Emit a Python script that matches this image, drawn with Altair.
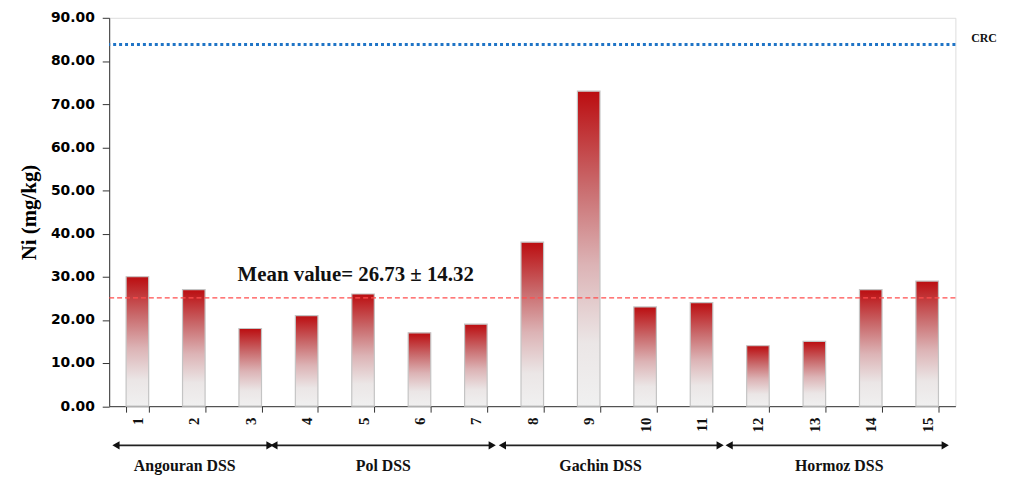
import altair as alt
import pandas as pd

# ---- data ----
samples = [str(i) for i in range(1, 16)]
ni_values = [30, 27, 18, 21, 26, 17, 19, 38, 73, 23, 24, 14, 15, 27, 29]

mean_line = 25.1
crc_value = 83.8
mean_label = "Mean value= 26.73 \u00b1 14.32"

group_names = ["Angouran  DSS", "Pol DSS", "Gachin DSS", "Hormoz  DSS"]
group_start = [0.12, 2.92, 6.97, 10.99]
group_end = [2.85, 6.79, 10.83, 14.82]
group_center = [1.34, 4.86, 8.71, 12.94]

bars_df = pd.DataFrame({"sample": samples, "ni": ni_values})
groups_df = pd.DataFrame({"name": group_names, "start": group_start,
                          "end": group_end, "center": group_center})

SERIF = "Liberation Serif"
W, H = 853, 391.5

yscale = alt.Scale(domain=[0, 90], nice=False)

gradient = alt.Gradient(
    gradient="linear",
    stops=[
        alt.GradientStop(color="#bb0d10", offset=0),
        alt.GradientStop(color="#c96a6c", offset=0.3),
        alt.GradientStop(color="#dcb3b5", offset=0.55),
        alt.GradientStop(color="#ebe6e6", offset=0.8),
        alt.GradientStop(color="#f0f0f0", offset=1),
    ],
    x1=0, x2=0, y1=0, y2=1,
)

bars = alt.Chart(bars_df).mark_bar(
    color=gradient, stroke="#c4c4c4", strokeWidth=1.2
).encode(
    x=alt.X("sample:N", sort=samples,
            scale=alt.Scale(paddingInner=0.6, paddingOuter=0.3),
            axis=alt.Axis(title=None, labelAngle=270, labelFont=SERIF,
                          labelFontWeight="bold", labelFontSize=15,
                          labelColor="#111", labelPadding=5,
                          tickBand="extent", tickSize=6, tickColor="#333",
                          domainColor="#333")),
    y=alt.Y("ni:Q", scale=yscale,
            axis=alt.Axis(values=list(range(0, 91, 10)), format=".2f",
                          grid=False, tickSize=7, tickColor="#333",
                          domainColor="#333", labelPadding=8,
                          labelFont="DejaVu Sans", labelFontWeight="bold",
                          labelFontSize=14, labelColor="#000",
                          title="Ni (mg/kg)", titleFont=SERIF,
                          titleFontSize=21, titleFontWeight="bold",
                          titleColor="#000", titlePadding=11)),
)

xq = alt.Scale(domain=[0, 15], nice=False, zero=False)

mean_rule = alt.Chart(pd.DataFrame({"v": [mean_line]})).mark_rule(
    color="#ff4d4d", strokeDash=[5, 3], strokeWidth=1.5
).encode(y=alt.Y("v:Q", scale=yscale))

crc_rule = alt.Chart(pd.DataFrame({"v": [crc_value]})).mark_rule(
    color="#1f74c6", strokeDash=[3, 3], strokeWidth=3
).encode(y=alt.Y("v:Q", scale=yscale))

crc_text = alt.Chart(pd.DataFrame({"x": [15.28], "v": [85.2], "t": ["CRC"]})).mark_text(
    font=SERIF, fontWeight="bold", fontSize=12, align="left", baseline="middle",
    color="#111"
).encode(x=alt.X("x:Q", scale=xq, axis=None),
         y=alt.Y("v:Q", scale=yscale), text="t:N")

mean_text = alt.Chart(pd.DataFrame({"x": [4.37], "v": [29.1], "t": [mean_label]})).mark_text(
    font=SERIF, fontWeight="bold", fontSize=21, align="center",
    baseline="alphabetic", color="#111"
).encode(x=alt.X("x:Q", scale=xq, axis=None),
         y=alt.Y("v:Q", scale=yscale), text="t:N")

arrows = alt.Chart(groups_df).mark_rule(color="#222", strokeWidth=1.6).encode(
    x=alt.X("start:Q", scale=xq, axis=None), x2="end:Q", y=alt.value(431)
)
heads_l = alt.Chart(groups_df).mark_point(
    shape="triangle-left", filled=True, color="#111", size=70, opacity=1
).encode(x=alt.X("start:Q", scale=xq, axis=None), y=alt.value(431))
heads_r = alt.Chart(groups_df).mark_point(
    shape="triangle-right", filled=True, color="#111", size=70, opacity=1
).encode(x=alt.X("end:Q", scale=xq, axis=None), y=alt.value(431))

group_text = alt.Chart(groups_df).mark_text(
    font=SERIF, fontWeight="bold", fontSize=16, baseline="middle",
    align="center", color="#111"
).encode(x=alt.X("center:Q", scale=xq, axis=None), y=alt.value(452),
         text="name:N")

annot = alt.layer(mean_rule, crc_rule, crc_text, mean_text, arrows,
                  heads_l, heads_r, group_text)

chart = alt.layer(bars, annot).resolve_scale(x="independent").properties(
    width=W, height=H,
    autosize=alt.AutoSizeParams(type="none"),
    padding={"left": 102, "top": 8, "right": 48, "bottom": 70},
).configure_view(stroke="#333", strokeWidth=1).configure(background="white")

chart.save("out.html", embed_options={"renderer": "svg", "actions": False})
